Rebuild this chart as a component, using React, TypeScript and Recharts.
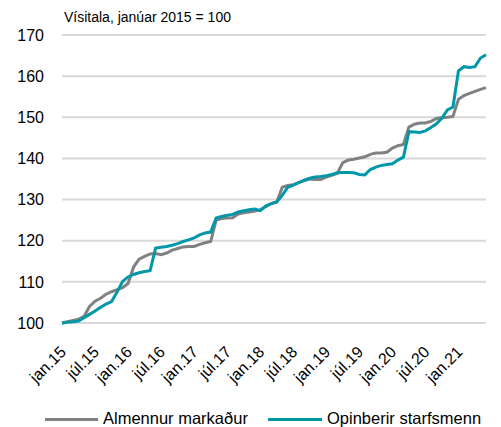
import { LineChart, Line, XAxis, YAxis, CartesianGrid } from 'recharts';

// Monthly, jan 2015 - jún 2021
const years = ['15', '16', '17', '18', '19', '20', '21'];
const months = ['jan', 'feb', 'mar', 'apr', 'maí', 'jún', 'júl', 'ágú', 'sep', 'okt', 'nóv', 'des'];

const almennur = [
    100.0, 100.3, 100.6, 100.9, 101.6, 104.0, 105.3, 106.0, 107.0, 107.6, 108.1, 108.6,
    109.6, 113.6, 115.5, 116.2, 116.8, 116.9, 116.6, 117.0, 117.7, 118.1, 118.5, 118.6,
    118.6, 119.1, 119.5, 119.8, 125.0, 125.4, 125.5, 125.6, 126.5, 126.8, 127.0, 127.2,
    127.5, 128.3, 129.0, 129.4, 133.0, 133.4, 133.6, 134.1, 134.6, 135.0, 134.9, 134.9,
    135.5, 135.9, 136.4, 139.0, 139.6, 139.8, 140.1, 140.4, 141.0, 141.3, 141.3, 141.5,
    142.5, 143.1, 143.4, 147.6, 148.3, 148.6, 148.6, 149.0, 149.7, 149.9, 150.0, 150.2,
    154.4, 155.3, 155.8, 156.3, 156.8, 157.2,
];

const opinberir = [
    100.0, 100.2, 100.3, 100.5, 101.3, 102.1, 102.9, 103.8, 104.6, 105.2, 107.5, 110.1,
    111.2, 111.8, 112.2, 112.5, 112.7, 118.2, 118.4, 118.6, 118.9, 119.3, 119.8, 120.2,
    120.7, 121.4, 121.9, 122.1, 125.5, 125.9, 126.2, 126.4, 127.0, 127.3, 127.5, 127.7,
    127.3, 128.4, 129.0, 129.4, 131.0, 133.0, 133.5, 134.1, 134.7, 135.2, 135.5, 135.6,
    135.8, 136.1, 136.5, 136.6, 136.6, 136.5, 136.1, 136.0, 137.3, 137.9, 138.3, 138.5,
    138.7, 139.6, 140.3, 146.5, 146.4, 146.3, 146.7, 147.5, 148.4, 149.8, 151.8, 152.5,
    161.3, 162.3, 162.1, 162.3, 164.4, 165.2,
];

const yTicks = [100, 110, 120, 130, 140, 150, 160, 170];

const labels: string[] = [];
years.forEach((y) => months.forEach((m) => labels.push(`${m}.${y}`)));

const data = almennur.map((v, i) => ({
    label: labels[i],
    almennur: v,
    opinberir: opinberir[i],
}));

const GRAY = '#7f8183';
const TEAL = '#0098a9';
const FONT = '"Liberation Sans", Arial, sans-serif';

function AngledTick({ x, y, payload }: any) {
    return (
        <g transform={`translate(${x + 5},${y + 30})`}>
            <text transform="rotate(-45)" textAnchor="end" fontSize={16} fill="#000" fontFamily={FONT}>
                {payload.value}
            </text>
        </g>
    );
}

export default function App() {
    return (
        <div style={{ position: 'relative', width: 501, height: 427, fontFamily: FONT, background: '#fff' }}>
            <style>{`body{margin:0}`}</style>
            <div style={{ position: 'absolute', left: 64, top: 10, fontSize: 14, lineHeight: '14px', color: '#000' }}>
                Vísitala, janúar 2015 = 100
            </div>
            <LineChart width={501} height={427} data={data} margin={{ top: 35, right: 15, bottom: 42, left: 0 }}>
                <CartesianGrid vertical={false} stroke="#d9d9d9" strokeWidth={2} />
                <XAxis
                    dataKey="label"
                    interval={5}
                    axisLine={false}
                    tickLine={false}
                    tickSize={0}
                    tickMargin={0}
                    height={62}
                    tick={<AngledTick />}
                />
                <YAxis
                    domain={[100, 170]}
                    ticks={yTicks}
                    axisLine={false}
                    tickLine={false}
                    tickSize={0}
                    tickMargin={18}
                    width={62}
                    tick={{ fontSize: 16, fill: '#000', fontFamily: FONT }}
                />
                <Line dataKey="almennur" stroke={GRAY} strokeWidth={3} dot={false} isAnimationActive={false} />
                <Line dataKey="opinberir" stroke={TEAL} strokeWidth={3} dot={false} isAnimationActive={false} />
            </LineChart>
            <div style={{ position: 'absolute', left: 45, top: 417.5, width: 53, height: 3, background: GRAY }} />
            <div style={{ position: 'absolute', left: 103, top: 410, fontSize: 16.5, lineHeight: '17px', color: '#000' }}>
                Almennur markaður
            </div>
            <div style={{ position: 'absolute', left: 268, top: 417.5, width: 54, height: 3, background: TEAL }} />
            <div style={{ position: 'absolute', left: 327, top: 410, fontSize: 16.5, lineHeight: '17px', color: '#000' }}>
                Opinberir starfsmenn
            </div>
        </div>
    );
}
